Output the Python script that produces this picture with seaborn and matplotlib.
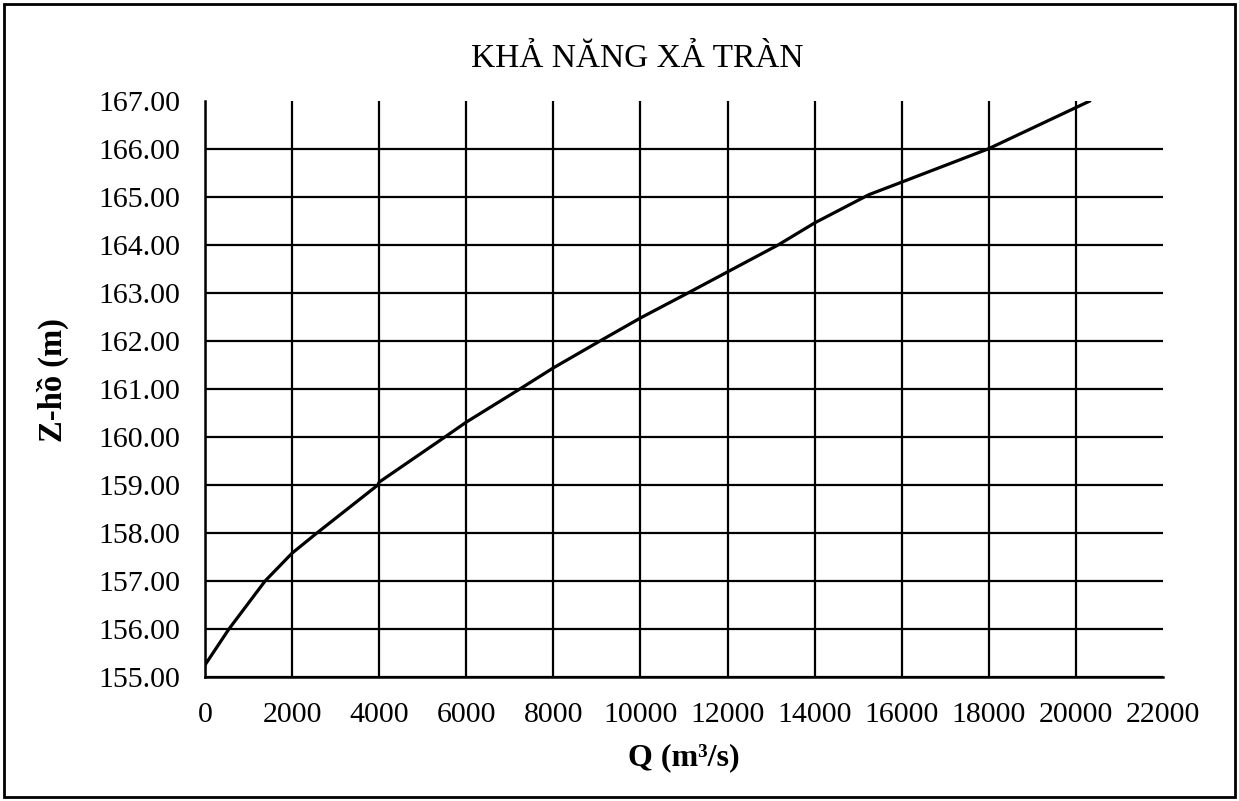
import numpy as np
import pandas as pd
import matplotlib
matplotlib.use("Agg")
import matplotlib.pyplot as plt
import seaborn as sns
from matplotlib.patches import Rectangle

# discharge capacity curve of the spillway
q_flow = [0, 550, 1380, 2000, 2570, 3970, 4000, 5510, 6000, 7230, 8000, 9070,
          10000, 11090, 12000, 13160, 14000, 15250, 16000, 17980, 20320]
z_lake = [155.25, 156.0, 157.0, 157.58, 158.0, 159.0, 159.06, 160.0, 160.31, 161.0,
          161.44, 162.0, 162.48, 163.0, 163.44, 164.0, 164.46, 165.05, 165.31, 166.0, 167.0]

x_ticks = list(range(0, 22001, 2000))
y_ticks = list(range(155, 168))

df = pd.DataFrame({"Q": q_flow, "Z": z_lake})

sns.set_style("white")
plt.rcParams["font.family"] = ["Liberation Serif", "DejaVu Serif"]
plt.rcParams["text.color"] = "black"

fig = plt.figure(figsize=(12.39, 8.01), dpi=100)
ax = fig.add_axes([205 / 1239, 1 - 677 / 801, (1163 - 205) / 1239, (677 - 101) / 801])

sns.lineplot(data=df, x="Q", y="Z", color="black", linewidth=2.3, ax=ax, sort=True)

ax.set_xlim(0, 22000)
ax.set_ylim(155, 167)
ax.set_xticks(x_ticks)
ax.set_yticks(y_ticks)
ax.set_xticklabels([str(v) for v in x_ticks])
ax.set_yticklabels([f"{v:.2f}" for v in y_ticks])
ax.tick_params(axis="both", length=0, labelsize=21.5, pad=18, colors="black")

ax.grid(True, color="black", linewidth=1.6)
ax.xaxis.get_gridlines()[-1].set_visible(False)
ax.yaxis.get_gridlines()[-1].set_visible(False)
ax.set_axisbelow(True)

sns.despine(ax=ax)
for side in ["left", "bottom"]:
    ax.spines[side].set_color("black")
    ax.spines[side].set_linewidth(1.8)

ax.set_xlabel("")
ax.set_ylabel("")
fig.text(637 / 1239, 1 - 67 / 801, "KHẢ NĂNG XẢ TRÀN", fontsize=24, color="black",
         ha="center", va="baseline")
fig.text(684 / 1239, 1 - 758 / 801, "Q (m³/s)", fontsize=23, fontweight="bold",
         color="black", ha="center", va="center")
fig.text(53 / 1239, 1 - 380 / 801, "Z-hồ (m)", fontsize=23.5, fontweight="bold",
         color="black", rotation=90, ha="center", va="center")

fig.patches.append(Rectangle((4 / 1239, 4 / 801), 1231 / 1239, 793 / 801,
                             transform=fig.transFigure, fill=False,
                             edgecolor="black", linewidth=2))

fig.savefig("out.png", dpi=100)
